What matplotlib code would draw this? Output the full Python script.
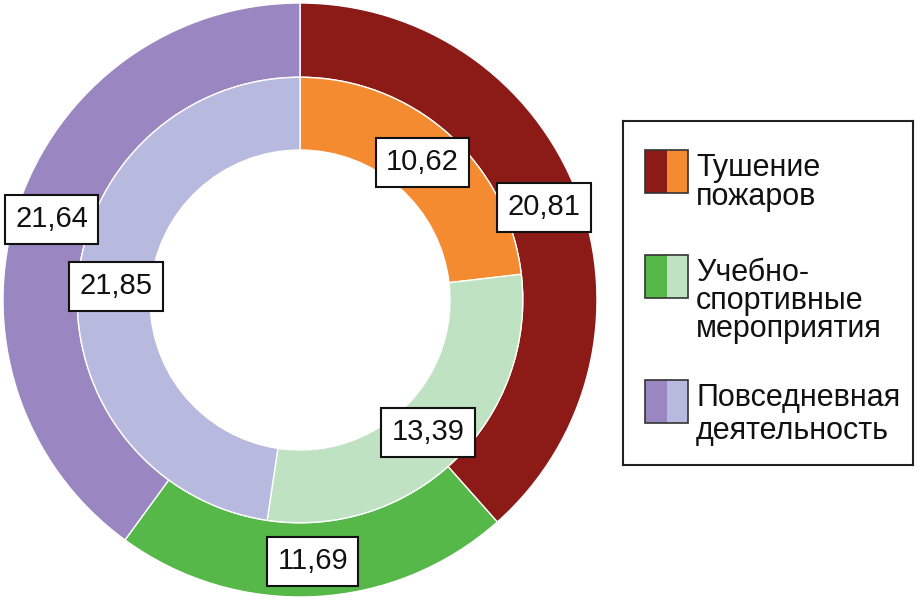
import numpy as np
import matplotlib
matplotlib.use("Agg")
import matplotlib.pyplot as plt
from matplotlib.patches import Rectangle

plt.rcParams['font.family'] = ['Liberation Sans', 'DejaVu Sans']

categories = ['Тушение\nпожаров', 'Учебно-\nспортивные\nмероприятия', 'Повседневная\nдеятельность']
outer_vals = [20.81, 11.69, 21.64]
inner_vals = [10.62, 13.39, 21.85]
outer_colors = ['#8c1a17', '#55b848', '#9a86c0']
inner_colors = ['#f58b30', '#bfe2c2', '#b7b9de']

W, H = 921, 604
fig = plt.figure(figsize=(W / 100, H / 100), dpi=100)

# pie axes: centre (300, 300) px from top-left, radius 297 px
R = 297
ax = fig.add_axes([(300 - R) / W, (H - 300 - R) / H, 2 * R / W, 2 * R / H])

w_out, _ = ax.pie(outer_vals, radius=1.0, colors=outer_colors, startangle=90,
                  counterclock=False, wedgeprops=dict(width=0.25, edgecolor='white', linewidth=1))
w_in, _ = ax.pie(inner_vals, radius=0.75, colors=inner_colors, startangle=90,
                 counterclock=False, wedgeprops=dict(width=0.245, edgecolor='white', linewidth=1))
ax.set_xlim(-1, 1)
ax.set_ylim(-1, 1)
ax.axis('off')


def fmt(v):
    return f'{v:.2f}'.replace('.', ',')


box = dict(boxstyle='square,pad=0.36', facecolor='white', edgecolor='#111111', linewidth=1.5)
for wedges, vals, r in [(w_out, outer_vals, 0.88), (w_in, inner_vals, 0.62)]:
    for wd, v in zip(wedges, vals):
        ang = np.deg2rad((wd.theta1 + wd.theta2) / 2)
        ax.text(r * np.cos(ang), r * np.sin(ang), fmt(v), ha='center', va='center',
                fontsize=21, color='#111111', bbox=box)

# legend drawn by hand, in pixel-like units
lx0, lx1, ly0, ly1 = 623, 913, 121, 465
lax = fig.add_axes([lx0 / W, (H - ly1) / H, (lx1 - lx0) / W, (ly1 - ly0) / H])
lax.set_xlim(lx0, lx1)
lax.set_ylim(ly1, ly0)
lax.set_xticks([])
lax.set_yticks([])
for s in lax.spines.values():
    s.set_linewidth(1.5)
    s.set_color('#222222')

entry_tops = [150, 255, 380]
line_sp = [0.95, 0.92, 1.12]
for top, lab, c1, c2, ls in zip(entry_tops, categories, outer_colors, inner_colors, line_sp):
    lax.add_patch(Rectangle((645, top), 22, 43, facecolor=c1, edgecolor='none'))
    lax.add_patch(Rectangle((667, top), 21, 43, facecolor=c2, edgecolor='none'))
    lax.add_patch(Rectangle((645, top), 43, 43, facecolor='none', edgecolor='#333333', linewidth=1.2))
    lax.text(696, top + 3, lab, ha='left', va='top', fontsize=22, linespacing=ls, color='#111111')

fig.savefig('out.png', dpi=100)
